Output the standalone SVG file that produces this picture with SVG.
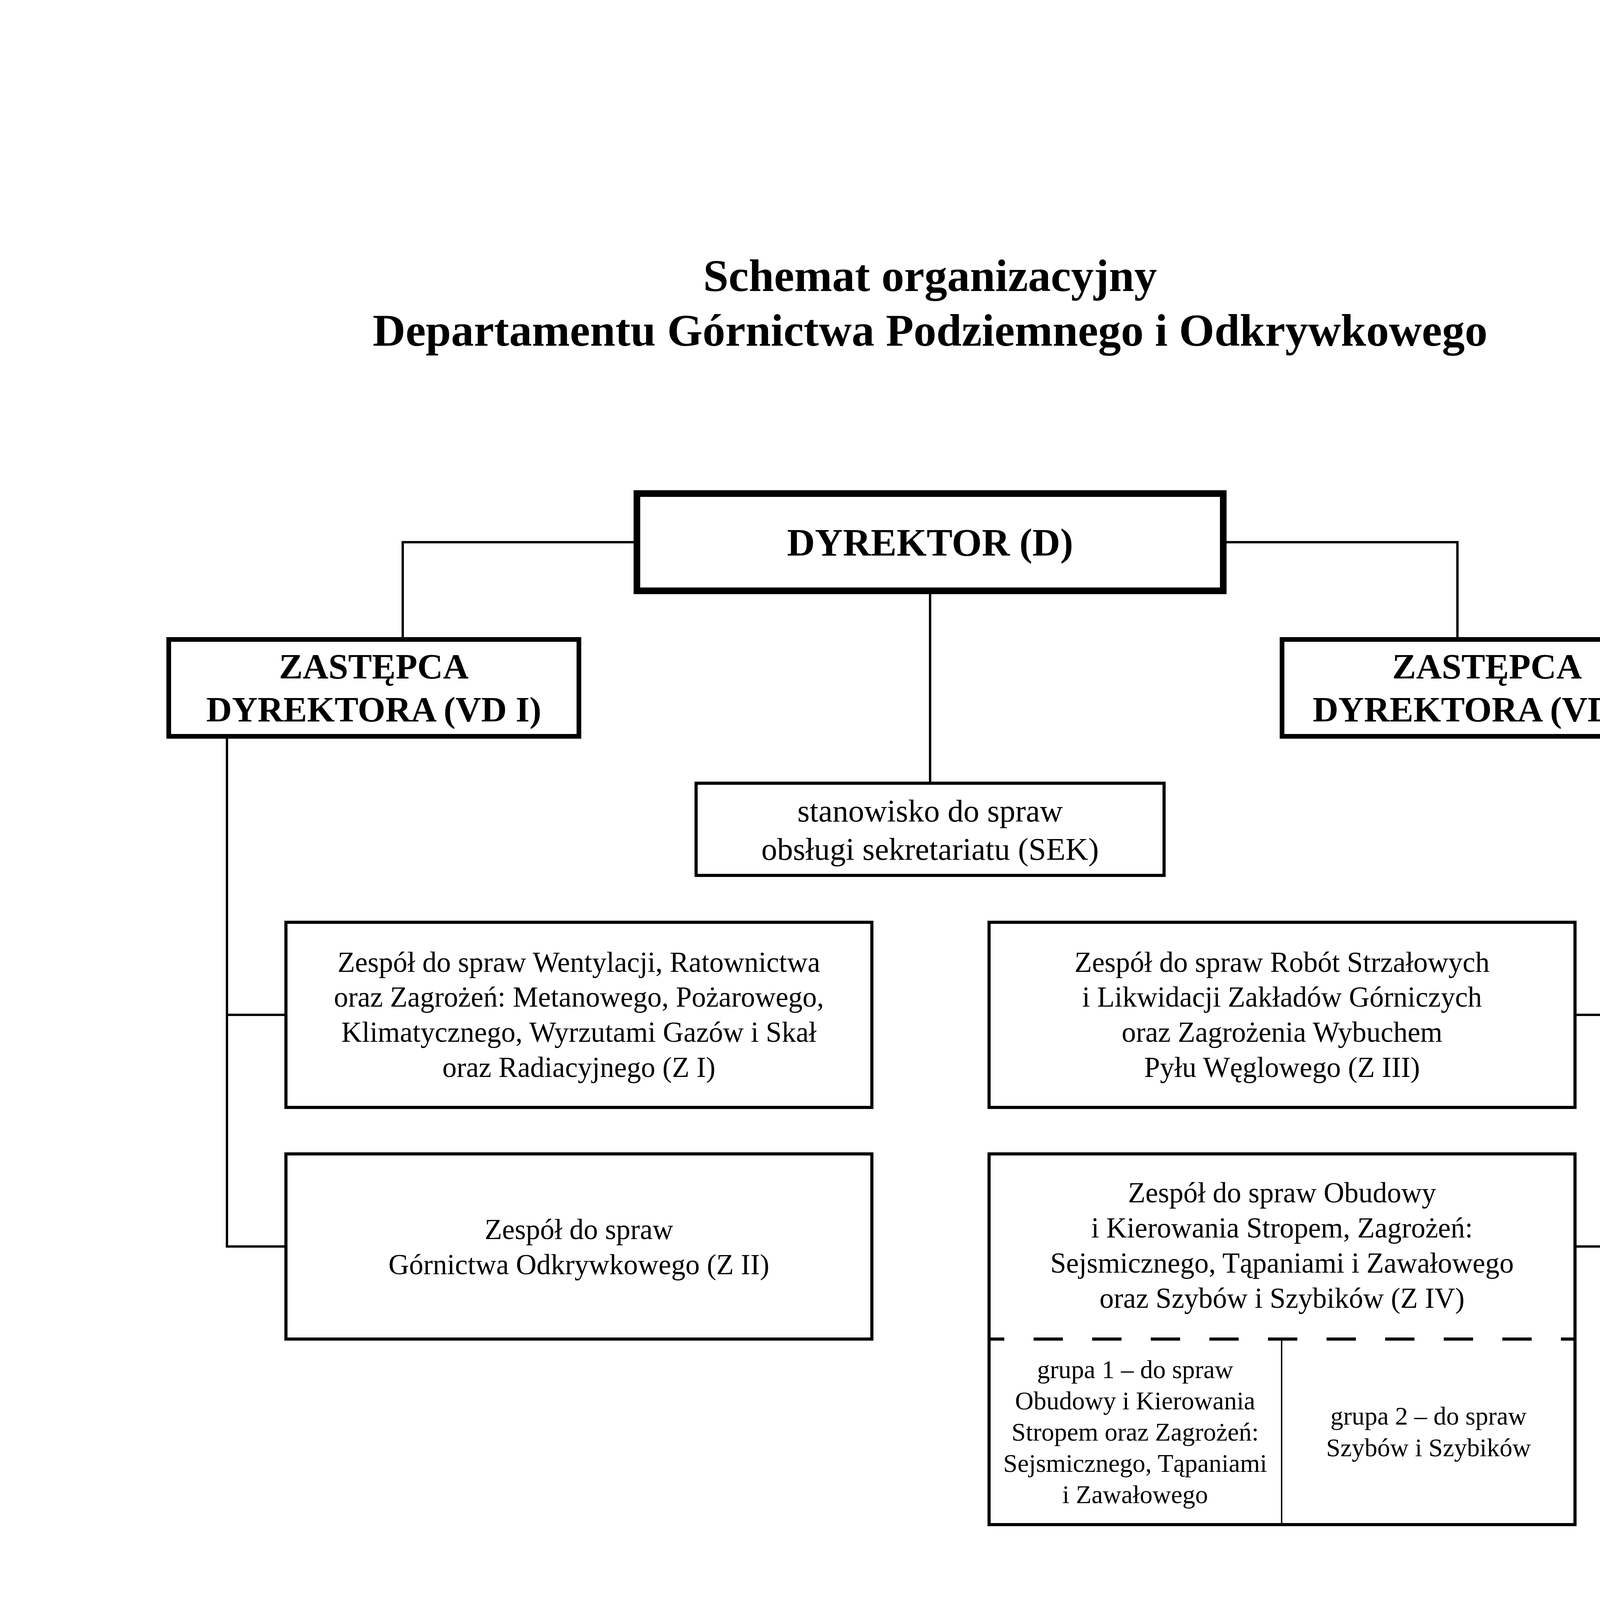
<svg xmlns="http://www.w3.org/2000/svg" width="4961" height="7016" viewBox="0 0 4961 7016">
<style>
text{font-family:"Liberation Serif","Times New Roman",serif;fill:#000;text-anchor:middle}
.title{font-size:116.5px;font-weight:bold}
.dir{font-size:99px;font-weight:bold}
.vd{font-size:91px;font-weight:bold}
.sek{font-size:81px}
.z{font-size:73px}
.g{font-size:65.5px}
.box{fill:#fff;stroke:#000}
.b1{stroke-width:17}
.b2{stroke-width:12}
.b3{stroke-width:8}
.conn{fill:none;stroke:#000;stroke-width:6}
</style>
<rect x="0" y="0" width="4961" height="7016" fill="#fff"/>
<g id="title">
<text class="title" x="2381" y="745">Schemat organizacyjny</text>
<text class="title" x="2381" y="885">Departamentu Górnictwa Podziemnego i Odkrywkowego</text>
</g>
<g id="connectors">
<path class="conn" d="M1622,1388 H1031 V1631"/>
<path class="conn" d="M3140,1388 H3731 V1631"/>
<path class="conn" d="M2381,1521 V2001"/>
<path class="conn" d="M581,1891 V3191 H728"/>
<path class="conn" d="M581,2598 H728"/>
<path class="conn" d="M4183,1891 V3191 H4036"/>
<path class="conn" d="M4183,2598 H4036"/>
</g>
<g id="D">
<rect class="box b1" x="1630.5" y="1263.5" width="1501" height="249"/>
<text class="dir" x="2381" y="1422">DYREKTOR (D)</text>
</g>
<g id="VD1">
<rect class="box b2" x="432" y="1637" width="1050" height="248"/>
<text class="vd" x="957" y="1737">ZASTĘPCA</text>
<text class="vd" x="957" y="1847">DYREKTORA (VD I)</text>
</g>
<g id="VD2">
<rect class="box b2" x="3282" y="1637" width="1050" height="248"/>
<text class="vd" x="3807" y="1737">ZASTĘPCA</text>
<text class="vd" x="3807" y="1847">DYREKTORA (VD II)</text>
</g>
<g id="SEK">
<rect class="box b3" x="1782" y="2005" width="1198" height="236"/>
<text class="sek" x="2381" y="2103">stanowisko do spraw</text>
<text class="sek" x="2381" y="2201">obsługi sekretariatu (SEK)</text>
</g>
<g id="Z1">
<rect class="box b3" x="732" y="2361" width="1500" height="474"/>
<text class="z" x="1482" y="2488">Zespół do spraw Wentylacji, Ratownictwa</text>
<text class="z" x="1482" y="2577">oraz Zagrożeń: Metanowego, Pożarowego,</text>
<text class="z" x="1482" y="2667">Klimatycznego, Wyrzutami Gazów i Skał</text>
<text class="z" x="1482" y="2757">oraz Radiacyjnego (Z I)</text>
</g>
<g id="Z3">
<rect class="box b3" x="2532" y="2361" width="1500" height="474"/>
<text class="z" x="3282" y="2488">Zespół do spraw Robót Strzałowych</text>
<text class="z" x="3282" y="2577">i Likwidacji Zakładów Górniczych</text>
<text class="z" x="3282" y="2667">oraz Zagrożenia Wybuchem</text>
<text class="z" x="3282" y="2757">Pyłu Węglowego (Z III)</text>
</g>
<g id="Z2">
<rect class="box b3" x="732" y="2954" width="1500" height="474"/>
<text class="z" x="1482" y="3172">Zespół do spraw</text>
<text class="z" x="1482" y="3262">Górnictwa Odkrywkowego (Z II)</text>
</g>
<g id="Z4">
<rect class="box b3" x="2532" y="2954" width="1500" height="949"/>
<line x1="2532" y1="3428" x2="4032" y2="3428" stroke="#000" stroke-width="8" stroke-dasharray="75 75" stroke-dashoffset="36"/>
<line x1="3281" y1="3428" x2="3281" y2="3903" stroke="#000" stroke-width="3.5"/>
<text class="z" x="3282" y="3078">Zespół do spraw Obudowy</text>
<text class="z" x="3282" y="3168">i Kierowania Stropem, Zagrożeń:</text>
<text class="z" x="3282" y="3258">Sejsmicznego, Tąpaniami i Zawałowego</text>
<text class="z" x="3282" y="3348">oraz Szybów i Szybików (Z IV)</text>
</g>
<g id="G1">
<text class="g" x="2906" y="3528">grupa 1 – do spraw</text>
<text class="g" x="2906" y="3608">Obudowy i Kierowania</text>
<text class="g" x="2906" y="3688">Stropem oraz Zagrożeń:</text>
<text class="g" x="2906" y="3768">Sejsmicznego, Tąpaniami</text>
<text class="g" x="2906" y="3848">i Zawałowego</text>
</g>
<g id="G2">
<text class="g" x="3657" y="3647">grupa 2 – do spraw</text>
<text class="g" x="3657" y="3728">Szybów i Szybików</text>
</g>
</svg>
